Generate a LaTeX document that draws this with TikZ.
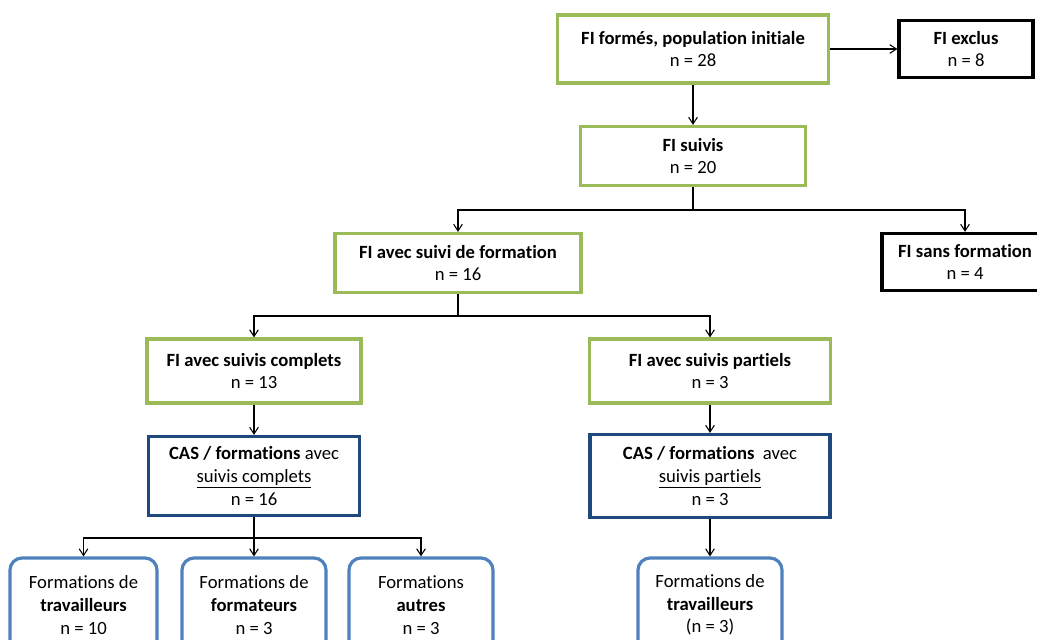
\documentclass[tikz,border=0pt]{standalone}
\usepackage{fontspec}
\setmainfont[Ligatures=NoCommon]{Carlito}
\usetikzlibrary{arrows.meta}
\definecolor{boxgreen}{RGB}{155,187,89}
\definecolor{boxnavy}{RGB}{31,73,125}
\definecolor{boxblue}{RGB}{79,129,189}
\begin{document}
\begin{tikzpicture}[x=0.75pt,y=-0.75pt,
  every node/.style={align=center,inner sep=0pt,font=\fontsize{14pt}{17pt}\selectfont},
  greenbox/.style={draw=boxgreen,line width=2.4pt,fill=white},
  blackbox/.style={draw=black,line width=2.4pt,fill=white},
  navybox/.style={draw=boxnavy,line width=2.4pt,fill=white},
  roundbox/.style={draw=boxblue,line width=2.4pt,rounded corners=9pt,fill=white,
    minimum width=108pt,minimum height=70.5pt},
  link/.style={-{Straight Barb[length=5pt,width=6.5pt]},line width=0.8pt}]
\clip (0,0) rectangle (1037,639);
\fill[white] (0,0) rectangle (1037,639);
% haut
\node[greenbox,minimum width=203.25pt,minimum height=51pt] (init) at (693,49)
  {\textbf{FI formés, population initiale}\\n = 28};
\node[blackbox,minimum width=100.5pt,minimum height=42.75pt] (exclus) at (966,49)
  {\textbf{FI exclus}\\n = 8};
\node[greenbox,minimum width=168.75pt,minimum height=44.25pt] (suivis) at (693,156)
  {\textbf{FI suivis}\\n = 20};
\draw[link] (init) -- (exclus);
\draw[link] (init) -- (suivis);
% formation ou non
\node[greenbox,minimum width=184.5pt,minimum height=44.25pt] (avecform) at (458,263)
  {\textbf{FI avec suivi de formation}\\n = 16};
\node[blackbox,minimum width=124.5pt,minimum height=42.75pt] (sansform) at (965,262)
  {\textbf{FI sans formation}\\n = 4};
\coordinate (j1) at (693,210);
\draw[line width=0.8pt] (suivis) -- (j1);
\draw[link] (j1) -| (avecform);
\draw[link] (j1) -| (sansform);
% suivis complets / partiels
\node[greenbox,minimum width=160.5pt,minimum height=48pt] (complets) at (254,371)
  {\textbf{FI avec suivis complets}\\n = 13};
\node[greenbox,minimum width=180.75pt,minimum height=48pt] (partiels) at (710,371)
  {\textbf{FI avec suivis partiels}\\n = 3};
\coordinate (j2) at (458,316);
\draw[line width=0.8pt] (avecform) -- (j2);
\draw[link] (j2) -| (complets);
\draw[link] (j2) -| (partiels);
\node[navybox,minimum width=158.25pt,minimum height=59.25pt] (cascomp) at (254,476)
  {\textbf{CAS / formations} avec\\\underline{suivis complets}\\n = 16};
\node[navybox,minimum width=180pt,minimum height=62.25pt] (caspart) at (710,476)
  {\textbf{CAS / formations}~ avec\\\underline{suivis partiels}\\n = 3};
\draw[link] (complets) -- (cascomp);
\draw[link] (partiels) -- (caspart);
% types de formations
\node[roundbox,minimum width=110.25pt] (trav) at (83.5,605)
  {Formations de\\\textbf{travailleurs}\\n = 10};
\node[roundbox] (forma) at (254,605)
  {Formations de\\\textbf{formateurs}\\n = 3};
\node[roundbox] (autres) at (421,605)
  {Formations\\\textbf{autres}\\n = 3};
\node[roundbox] (travpart) at (710,605)
  {Formations de\\\textbf{travailleurs}\\(n = 3)};
\coordinate (j3) at (254,538);
\draw[line width=0.8pt] (cascomp) -- (j3);
\draw[link] (j3) -| (trav);
\draw[link] (j3) -- (forma);
\draw[link] (j3) -| (autres);
\draw[link] (caspart) -- (travpart);
\end{tikzpicture}
\end{document}
